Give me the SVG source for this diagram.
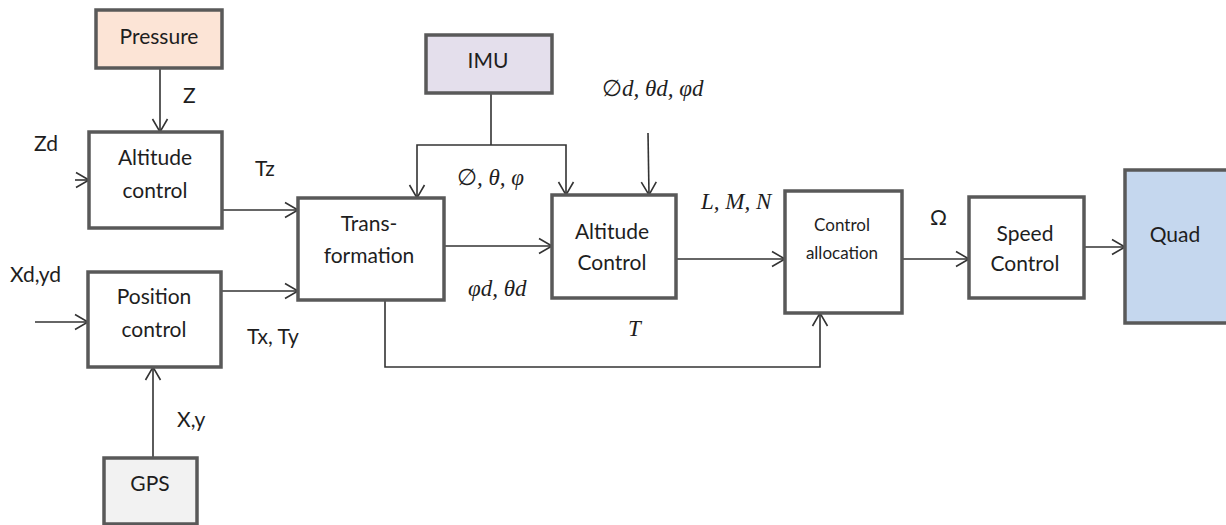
<svg xmlns="http://www.w3.org/2000/svg" width="1226" height="525" viewBox="0 0 1226 525">
<defs>
<marker id="arr" markerUnits="userSpaceOnUse" markerWidth="16" markerHeight="18" viewBox="0 0 16 18" refX="14" refY="9" orient="auto">
<path d="M1,1.5 L14,9 L1,16.5" fill="none" stroke="#333" stroke-width="1.6"/>
</marker>
<style>
.box{stroke:#595959;stroke-width:3.5;fill:#fff}
.t{font-family:Lato,"Open Sans","Liberation Sans",sans-serif;font-size:21px;fill:#1e1e1e;text-anchor:middle}
.lb{font-family:Lato,"Open Sans","Liberation Sans",sans-serif;font-size:21px;fill:#1e1e1e}
.m{font-family:"Liberation Serif","DejaVu Serif",serif;font-style:italic;font-size:23px;fill:#1e1e1e}
.c{fill:none;stroke:#333;stroke-width:1.6}
</style>
</defs>
<rect width="1226" height="525" fill="#fff"/>
<g id="connectors">
<line class="c" x1="160" y1="68" x2="160" y2="132" marker-end="url(#arr)"/>
<line class="c" x1="75" y1="180" x2="89" y2="180" marker-end="url(#arr)"/>
<line class="c" x1="222" y1="210" x2="298" y2="210" marker-end="url(#arr)"/>
<line class="c" x1="35" y1="322" x2="88" y2="322" marker-end="url(#arr)"/>
<line class="c" x1="221" y1="291" x2="298" y2="291" marker-end="url(#arr)"/>
<line class="c" x1="153" y1="458" x2="153" y2="367" marker-end="url(#arr)"/>
<polyline class="c" points="491,93 491,145"/>
<polyline class="c" points="491,145 417,145 417,198" marker-end="url(#arr)"/>
<polyline class="c" points="491,145 566,145 566,195" marker-end="url(#arr)"/>
<line class="c" x1="648" y1="133" x2="649" y2="195" marker-end="url(#arr)"/>
<line class="c" x1="444" y1="246" x2="552" y2="246" marker-end="url(#arr)"/>
<line class="c" x1="676" y1="259" x2="785" y2="259" marker-end="url(#arr)"/>
<polyline class="c" points="385,300 385,367 820,367 820,313" marker-end="url(#arr)"/>
<line class="c" x1="902" y1="259" x2="969" y2="259" marker-end="url(#arr)"/>
<line class="c" x1="1084" y1="247" x2="1125" y2="247" marker-end="url(#arr)"/>
</g>
<g id="pressure"><rect class="box" x="96" y="10" width="126" height="58" style="fill:#fce4d6"/><text class="t" x="159" y="44">Pressure</text></g>
<g id="altitude-left"><rect class="box" x="89" y="132" width="133" height="96"/><text class="t" x="155" y="165">Altitude</text><text class="t" x="155" y="198">control</text></g>
<g id="position"><rect class="box" x="88" y="272" width="133" height="95"/><text class="t" x="154" y="304">Position</text><text class="t" x="154" y="337">control</text></g>
<g id="gps"><rect class="box" x="104" y="458" width="93" height="66" style="fill:#f2f2f2"/><text class="t" x="150" y="491">GPS</text></g>
<g id="trans"><rect class="box" x="298" y="198" width="146" height="102"/><text class="t" x="369" y="231">Trans-</text><text class="t" x="369" y="263">formation</text></g>
<g id="imu"><rect class="box" x="426" y="35" width="126" height="58" style="fill:#e4dfec"/><text class="t" x="488" y="68">IMU</text></g>
<g id="altitude-ctrl"><rect class="box" x="552" y="195" width="124" height="103"/><text class="t" x="612" y="239">Altitude</text><text class="t" x="612" y="270">Control</text></g>
<g id="alloc"><rect class="box" x="785" y="191" width="117" height="122"/><text class="t" x="842" y="231" style="font-size:17px">Control</text><text class="t" x="842" y="259" style="font-size:17px">allocation</text></g>
<g id="speed"><rect class="box" x="969" y="197" width="115" height="101"/><text class="t" x="1025" y="241">Speed</text><text class="t" x="1025" y="271">Control</text></g>
<g id="quad"><rect class="box" x="1125" y="170" width="104" height="153" style="fill:#c5d7ee"/><text class="t" x="1175" y="242">Quad</text></g>
<g id="labels">
<text class="lb" x="183" y="103">Z</text>
<text class="lb" x="34" y="151">Zd</text>
<text class="lb" x="255" y="176">Tz</text>
<text class="lb" x="10" y="282">Xd,yd</text>
<text class="lb" x="247" y="344">Tx, Ty</text>
<text class="lb" x="177" y="427">X,y</text>
<text class="lb" x="930" y="225">Ω</text>
<text class="m" x="602" y="96"><tspan font-style="normal">∅</tspan>d, θd, φd</text>
<text class="m" x="457" y="185"><tspan font-style="normal">∅</tspan>, θ, φ</text>
<text class="m" x="701" y="209">L, M, N</text>
<text class="m" x="468" y="296">φd, θd</text>
<text class="m" x="628" y="336">T</text>
</g>
</svg>
